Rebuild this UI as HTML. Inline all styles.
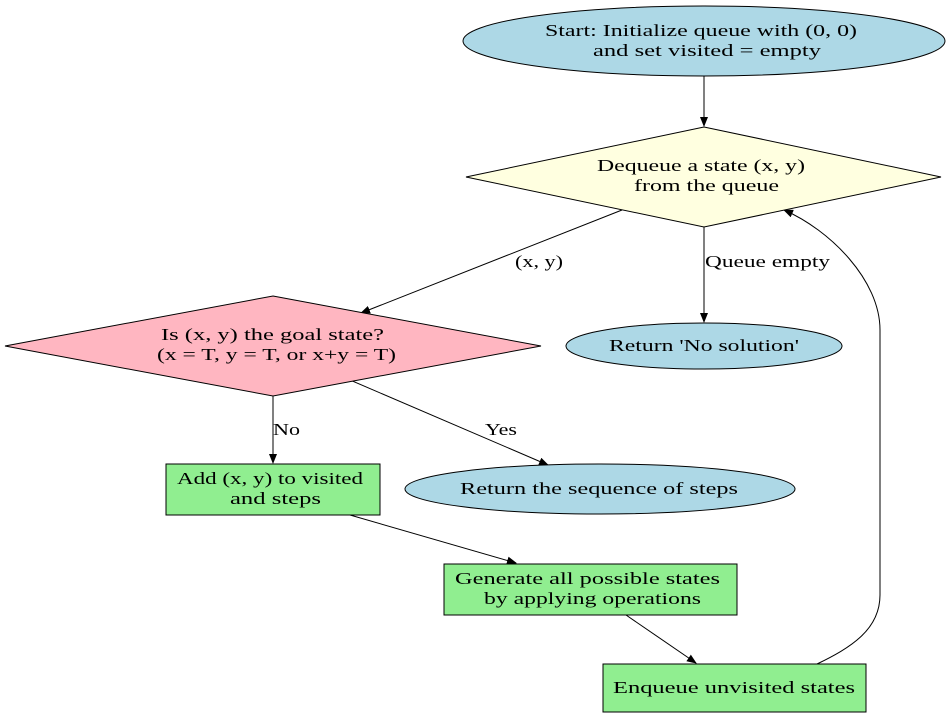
<!DOCTYPE html>
<html><head><meta charset="utf-8"><style>html,body{margin:0;padding:0;background:#fff}svg{display:block}text{font-family:"Liberation Serif",serif;font-size:17px;fill:#000}</style></head><body>
<svg width="950" height="718" viewBox="0 0 950 718" xmlns="http://www.w3.org/2000/svg">
<defs><marker id="a" markerWidth="10" markerHeight="8" refX="9" refY="4" orient="auto" markerUnits="userSpaceOnUse"><path d="M0,0 L10,4 L0,8 z" fill="#000"/></marker></defs>
<g stroke="#000" stroke-width="1" fill="none">
<line x1="704" y1="76" x2="704" y2="126" marker-end="url(#a)"/>
<line x1="622" y1="210" x2="361" y2="313" marker-end="url(#a)"/>
<line x1="704" y1="227" x2="704" y2="322" marker-end="url(#a)"/>
<line x1="273" y1="396" x2="273" y2="463" marker-end="url(#a)"/>
<line x1="350" y1="380" x2="548" y2="465" marker-end="url(#a)"/>
<line x1="350" y1="515" x2="516" y2="563" marker-end="url(#a)"/>
<line x1="626" y1="615" x2="696" y2="663" marker-end="url(#a)"/>
<path d="M817,664 C850,648 880,630 880,595 L880,330 C880,280 830,230 784,210" marker-end="url(#a)"/>
</g>
<g stroke="#000" stroke-width="1">
<ellipse cx="704" cy="41" rx="241" ry="35" fill="#add8e6"/>
<polygon points="704,127 941,177 704,227 466,177" fill="#ffffe0"/>
<polygon points="273,296 541,346 273,396 5,346" fill="#ffb6c1"/>
<ellipse cx="704" cy="346" rx="138" ry="23" fill="#add8e6"/>
<ellipse cx="600" cy="489" rx="195" ry="25" fill="#add8e6"/>
<rect x="166" y="464" width="214" height="51" fill="#90ee90"/>
<rect x="444" y="564" width="293" height="51" fill="#90ee90"/>
<rect x="603" y="664" width="263" height="48" fill="#90ee90"/>
</g>
<g lengthAdjust="spacingAndGlyphs">
<text x="545" y="36" textLength="312" lengthAdjust="spacingAndGlyphs">Start: Initialize queue with (0, 0)</text>
<text x="593" y="56" textLength="228" lengthAdjust="spacingAndGlyphs">and set visited = empty</text>
<text x="597" y="171" textLength="208" lengthAdjust="spacingAndGlyphs">Dequeue a state (x, y)</text>
<text x="634" y="191" textLength="145" lengthAdjust="spacingAndGlyphs">from the queue</text>
<text x="161" y="340" textLength="223" lengthAdjust="spacingAndGlyphs">Is (x, y) the goal state?</text>
<text x="157" y="360" textLength="239" lengthAdjust="spacingAndGlyphs">(x = T, y = T, or x+y = T)</text>
<text x="609" y="351" textLength="190" lengthAdjust="spacingAndGlyphs">Return 'No solution'</text>
<text x="460" y="494" textLength="278" lengthAdjust="spacingAndGlyphs">Return the sequence of steps</text>
<text x="177" y="484" textLength="186" lengthAdjust="spacingAndGlyphs">Add (x, y) to visited</text>
<text x="230" y="504" textLength="91" lengthAdjust="spacingAndGlyphs">and steps</text>
<text x="455" y="584" textLength="265" lengthAdjust="spacingAndGlyphs">Generate all possible states</text>
<text x="484" y="604" textLength="217" lengthAdjust="spacingAndGlyphs">by applying operations</text>
<text x="613" y="693" textLength="242" lengthAdjust="spacingAndGlyphs">Enqueue unvisited states</text>
<text x="515" y="267" textLength="48" lengthAdjust="spacingAndGlyphs">(x, y)</text>
<text x="705" y="267" textLength="125" lengthAdjust="spacingAndGlyphs">Queue empty</text>
<text x="273" y="435" textLength="27" lengthAdjust="spacingAndGlyphs">No</text>
<text x="485" y="435" textLength="32" lengthAdjust="spacingAndGlyphs">Yes</text>
</g>
</svg>
</body></html>
